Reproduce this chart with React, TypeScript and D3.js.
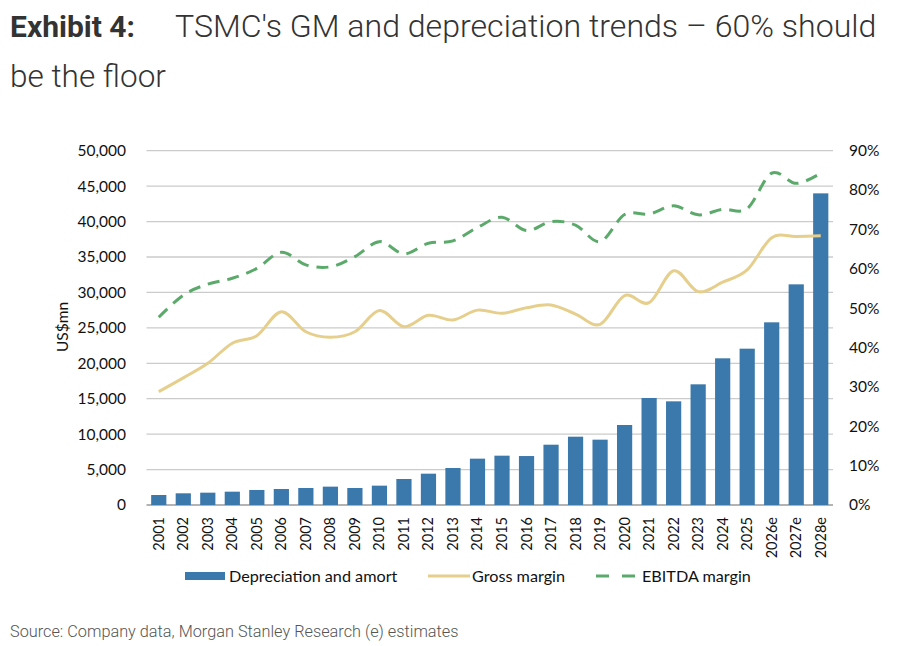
import React from "react";
import * as d3 from "d3";

const years = ["2001","2002","2003","2004","2005","2006","2007","2008","2009","2010","2011","2012","2013","2014","2015","2016","2017","2018","2019","2020","2021","2022","2023","2024","2025","2026e","2027e","2028e"];
const depreciation = [1410,1650,1740,1880,2120,2260,2400,2590,2400,2730,3670,4420,5220,6540,6960,6910,8510,9640,9220,11290,15100,14630,17030,20700,22060,25780,31140,43980];
const grossMargin = [28.8,32.3,36.0,41.1,43.0,49.1,44.0,42.6,44.0,49.4,45.3,48.2,47.0,49.5,48.7,50.1,50.8,48.5,45.9,53.2,51.4,59.5,54.2,56.6,59.7,67.9,68.2,68.4];
const ebitdaMargin = [47.7,53.3,56.1,57.6,60.1,64.2,61.0,60.5,63.1,66.9,63.8,66.5,67.1,70.5,73.1,69.7,72.0,71.1,66.9,73.8,73.9,76.0,73.7,75.1,75.3,84.3,81.7,84.3];
const leftTicks = [0,5000,10000,15000,20000,25000,30000,35000,40000,45000,50000];
const rightTicks = [0,10,20,30,40,50,60,70,80,90];

const W = 900, H = 646;
const plot = { left: 146.5, right: 833, top: 150.7, bottom: 505 };
const BAR = "#3b78ab", GOLD = "#e6cf8c", GREEN = "#5caa6b";
const AXISFONT = "Lato, 'Open Sans', sans-serif";

export default function App() {
  const x = d3.scaleBand<string>().domain(years).range([plot.left, plot.right]).paddingInner(0.38).paddingOuter(0.19);
  const yL = d3.scaleLinear().domain([0, 50000]).range([plot.bottom, plot.top]);
  const yR = d3.scaleLinear().domain([0, 90]).range([plot.bottom, plot.top]);
  const cx = (d: string) => (x(d) as number) + x.bandwidth() / 2;
  const line = d3.line<number>().x((_, i) => cx(years[i])).y((v) => yR(v)).curve(d3.curveCardinal.tension(0));
  const fmt = d3.format(",");

  return (
    <svg width={W} height={H} style={{ position: "absolute", left: 0, top: 0, background: "#fff" }}>
      <text x={10} y={37} fontFamily="Roboto, sans-serif" fontSize={30} fontWeight={700} fill="#333">Exhibit 4:</text>
      <text x={175} y={37} fontFamily="Roboto, sans-serif" fontSize={32.1} fontWeight={300} fill="#333">TSMC's GM and depreciation trends – 60% should</text>
      <text x={10} y={87} fontFamily="Roboto, sans-serif" fontSize={31.5} fontWeight={300} fill="#333">be the floor</text>

      {leftTicks.map((t) => (
        <line key={"g" + t} x1={plot.left} x2={plot.right} y1={yL(t)} y2={yL(t)} stroke={t === 0 ? "#9a9a9a" : "#cbcbcb"} strokeWidth={1.3} />
      ))}
      {leftTicks.map((t) => (
        <text key={"l" + t} x={126} y={yL(t)} dy="0.35em" textAnchor="end" fontFamily={AXISFONT} fontSize={15.5} fill="#111">{fmt(t)}</text>
      ))}
      {rightTicks.map((t) => (
        <text key={"r" + t} x={849} y={yR(t)} dy="0.35em" textAnchor="start" fontFamily={AXISFONT} fontSize={15.5} fill="#111">{t + "%"}</text>
      ))}
      <text transform={`translate(68,327) rotate(-90)`} textAnchor="middle" fontFamily={AXISFONT} fontSize={15.5} fill="#111">US$mn</text>

      {years.map((yv, i) => (
        <rect key={"b" + yv} x={x(yv)} y={yL(depreciation[i])} width={x.bandwidth()} height={yL(0) - yL(depreciation[i])} fill={BAR} />
      ))}
      <path d={line(grossMargin) || ""} fill="none" stroke={GOLD} strokeWidth={3} />
      <path d={line(ebitdaMargin) || ""} fill="none" stroke={GREEN} strokeWidth={3} strokeDasharray="12 8" />

      {years.map((yv) => (
        <text key={"x" + yv} transform={`translate(${cx(yv) + 5},517) rotate(-90)`} textAnchor="end" fontFamily={AXISFONT} fontSize={14.5} fill="#111">{yv}</text>
      ))}

      <rect x={185} y={572} width={40} height={8} fill={BAR} />
      <text x={229} y={582} fontFamily={AXISFONT} fontSize={16.2} fill="#111">Depreciation and amort</text>
      <line x1={428} x2={470} y1={576} y2={576} stroke={GOLD} strokeWidth={3} />
      <text x={472} y={582} fontFamily={AXISFONT} fontSize={16.2} fill="#111">Gross margin</text>
      <line x1={596} x2={636} y1={576} y2={576} stroke={GREEN} strokeWidth={3} strokeDasharray="13 13" />
      <text x={642} y={582} fontFamily={AXISFONT} fontSize={16.2} fill="#111">EBITDA margin</text>

      <text x={10} y={637} fontFamily="Roboto, sans-serif" fontWeight={300} fontSize={16.3} fill="#555">Source: Company data, Morgan Stanley Research (e) estimates</text>
    </svg>
  );
}
